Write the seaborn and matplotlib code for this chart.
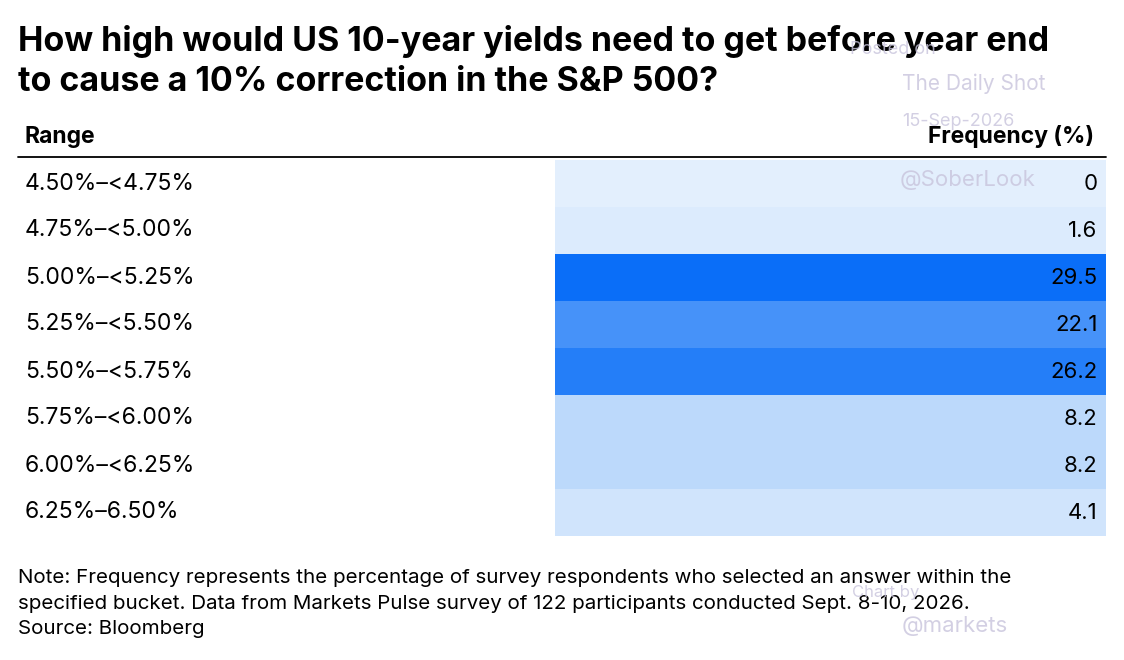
import matplotlib
matplotlib.use("Agg")
import matplotlib.pyplot as plt
import seaborn as sns
import numpy as np
import pandas as pd
from matplotlib.colors import LinearSegmentedColormap

ranges = ["4.50%–<4.75%", "4.75%–<5.00%", "5.00%–<5.25%", "5.25%–<5.50%",
          "5.50%–<5.75%", "5.75%–<6.00%", "6.00%–<6.25%", "6.25%–6.50%"]
freq = [0, 1.6, 29.5, 22.1, 26.2, 8.2, 8.2, 4.1]
freq_labels = ["0", "1.6", "29.5", "22.1", "26.2", "8.2", "8.2", "4.1"]

sns.set_theme(style="white")
plt.rcParams['font.family'] = ['Inter', 'DejaVu Sans']
plt.rcParams['text.color'] = 'black'

W, H = 1124, 660
fig = plt.figure(figsize=(W/100, H/100), dpi=100)
fig.patch.set_facecolor("white")

left, right, top, bottom = 555, 1106, 160, 536
ax = fig.add_axes([left/W, 1-bottom/H, (right-left)/W, (bottom-top)/H])
cmap = LinearSegmentedColormap.from_list("b", [(0, "#e3effd"), (0.28, "#bcd9fb"), (0.75, "#4692f9"), (1, "#0a6ef8")])
df = pd.DataFrame({"Frequency": freq}, index=ranges)
sns.heatmap(df, ax=ax, cmap=cmap, vmin=0, vmax=29.5, cbar=False, annot=False,
            xticklabels=False, yticklabels=False)
for i, (v, lab) in enumerate(zip(freq, freq_labels)):
    ax.text(0.985, i+0.52, lab, ha="right", va="center", fontsize=16, color="black")

row_h = (bottom-top)/len(ranges)
for i, r in enumerate(ranges):
    y = top + row_h*(i+0.5)
    fig.text(25/W, 1-y/H, r, ha="left", va="center", fontsize=16.5, color="black")

fig.text(18/W, 1-42/H, "How high would US 10-year yields need to get before year end",
         fontsize=24.5, fontweight="bold", va="center", ha="left", color="black")
fig.text(18/W, 1-82/H, "to cause a 10% correction in the S&P 500?",
         fontsize=24.5, fontweight="bold", va="center", ha="left", color="black")
fig.text(25/W, 1-137/H, "Range", fontsize=16.5, fontweight="bold", va="center", ha="left")
fig.text(1094/W, 1-137/H, "Frequency (%)", fontsize=16.5, fontweight="bold", va="center", ha="right")
fig.add_artist(plt.Line2D([18/W, 1106/W], [1-157/H, 1-157/H], color="black", lw=1.3))

fig.text(18/W, 1-578/H, "Note: Frequency represents the percentage of survey respondents who selected an answer within the",
         fontsize=14.8, va="center", ha="left")
fig.text(18/W, 1-604/H, "specified bucket. Data from Markets Pulse survey of 122 participants conducted Sept. 8-10, 2026.",
         fontsize=14.8, va="center", ha="left")
fig.text(18/W, 1-629/H, "Source: Bloomberg", fontsize=14.8, va="center", ha="left")

wm = "#c8c4dc"
for txt, x, y, fs in [("Posted on", 850, 50, 13), ("The Daily Shot", 902, 84, 15),
                      ("15-Sep-2026", 902, 121, 13), ("@SoberLook", 900, 180, 16),
                      ("Chart by", 852, 593, 12), ("@markets", 902, 626, 16)]:
    fig.text(x/W, 1-y/H, txt, fontsize=fs, color=wm, va="center", ha="left", alpha=0.8)

fig.savefig("out.png", dpi=100)
